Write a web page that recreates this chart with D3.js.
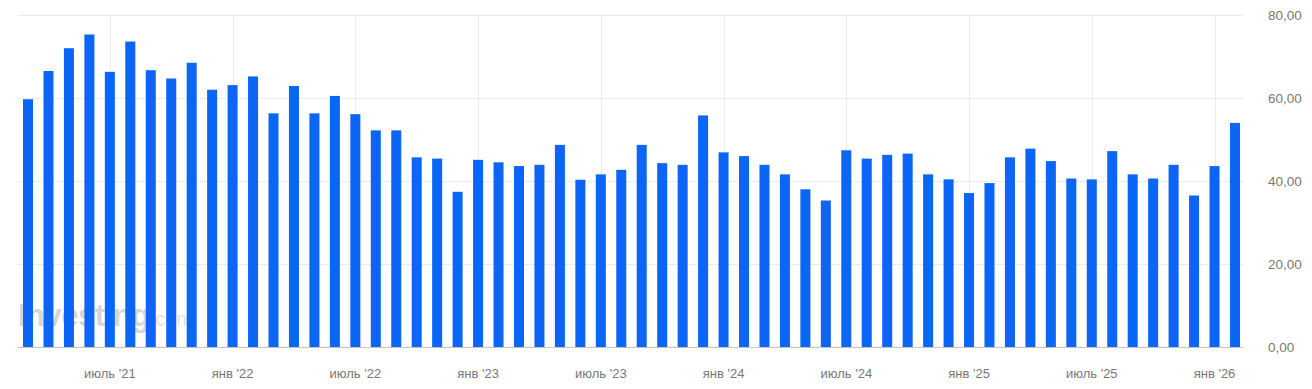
<!DOCTYPE html>
<html>
<head>
<meta charset="utf-8">
<script src="https://cdn.jsdelivr.net/npm/d3@7"></script>
<style>
  html, body { margin: 0; padding: 0; background: #fff; }
  svg { display: block; }
</style>
</head>
<body>
<svg id="chart" width="1312" height="389"></svg>
<script>
// Months: March 2021 .. February 2026
const months = [
  "2021-03","2021-04","2021-05","2021-06","2021-07","2021-08","2021-09","2021-10","2021-11","2021-12",
  "2022-01","2022-02","2022-03","2022-04","2022-05","2022-06","2022-07","2022-08","2022-09","2022-10","2022-11","2022-12",
  "2023-01","2023-02","2023-03","2023-04","2023-05","2023-06","2023-07","2023-08","2023-09","2023-10","2023-11","2023-12",
  "2024-01","2024-02","2024-03","2024-04","2024-05","2024-06","2024-07","2024-08","2024-09","2024-10","2024-11","2024-12",
  "2025-01","2025-02","2025-03","2025-04","2025-05","2025-06","2025-07","2025-08","2025-09","2025-10","2025-11","2025-12",
  "2026-01","2026-02"
];
const values = [
  59.7, 66.5, 72.0, 75.3, 66.3, 73.6, 66.7, 64.7, 68.5, 62.0,
  63.1, 65.2, 56.3, 62.9, 56.3, 60.5, 56.1, 52.2, 52.2, 45.7, 45.4, 37.4,
  45.1, 44.5, 43.6, 43.9, 48.7, 40.3, 41.6, 42.7, 48.7, 44.3, 43.9, 55.8,
  46.9, 46.0, 43.9, 41.6, 38.0, 35.3, 47.4, 45.4, 46.3, 46.6, 41.6, 40.4,
  37.1, 39.5, 45.7, 47.8, 44.8, 40.6, 40.4, 47.2, 41.6, 40.6, 43.9, 36.5,
  43.6, 54.0
];
// x-axis labels
const xTickMonths = ["2021-07","2022-01","2022-07","2023-01","2023-07","2024-01","2024-07","2025-01","2025-07","2026-01"];
const xTickLabels = ["июль '21","янв '22","июль '22","янв '23","июль '23","янв '24","июль '24","янв '25","июль '25","янв '26"];
const yTicks = [0, 20, 40, 60, 80];
const yTickLabels = ["0,00","20,00","40,00","60,00","80,00"];

const svg = d3.select("#chart");
const plotLeft = 17.8, plotRight = 1245.2, plotTop = 15, plotBottom = 347;

const x = d3.scaleBand().domain(months).range([plotLeft, plotRight]).paddingInner(0.51).paddingOuter(0.255);
const y = d3.scaleLinear().domain([0, 80]).range([plotBottom, plotTop]);

// watermark (behind bars)
const wm = svg.append("text").attr("x", 18).attr("y", 326)
  .attr("font-family", "Liberation Sans, Arial, sans-serif");
wm.append("tspan").text("Investing").attr("font-size", 31).attr("font-weight", "bold")
  .attr("fill", "#d6d6d6").attr("letter-spacing", "-0.5");
wm.append("tspan").text(".com").attr("font-size", 20).attr("fill", "#e4e4e4");

// horizontal gridlines
svg.append("g").selectAll("line").data(yTicks.filter(d => d > 0)).join("line")
  .attr("x1", plotLeft).attr("x2", 1243)
  .attr("y1", d => Math.round(y(d)) + 0.5).attr("y2", d => Math.round(y(d)) + 0.5)
  .attr("stroke", "#ebebeb").attr("stroke-width", 1);

// vertical gridlines
svg.append("g").selectAll("line").data(xTickMonths).join("line")
  .attr("x1", d => Math.round(x(d) + x.bandwidth() / 2) + 0.5)
  .attr("x2", d => Math.round(x(d) + x.bandwidth() / 2) + 0.5)
  .attr("y1", plotTop).attr("y2", plotBottom)
  .attr("stroke", "#ebebeb").attr("stroke-width", 1);

// bars
svg.append("g").selectAll("rect").data(values).join("rect")
  .attr("x", (d, i) => x(months[i]))
  .attr("width", x.bandwidth())
  .attr("y", d => y(d))
  .attr("height", d => y(0) - y(d))
  .attr("fill", "#0b66f6");

// baseline
svg.append("line").attr("x1", plotLeft).attr("x2", 1243)
  .attr("y1", Math.round(y(0)) + 0.5).attr("y2", Math.round(y(0)) + 0.5)
  .attr("stroke", "#c4c4c4").attr("stroke-width", 1);

// y labels
svg.append("g").selectAll("text").data(yTicks).join("text")
  .attr("x", 1268).attr("y", d => y(d)).attr("dy", "0.35em")
  .attr("font-family", "Liberation Sans, Arial, sans-serif").attr("font-size", 13.5)
  .attr("fill", "#777").text((d, i) => yTickLabels[i]);

// x labels
svg.append("g").selectAll("text").data(xTickMonths).join("text")
  .attr("x", d => x(d) + x.bandwidth() / 2).attr("y", 378)
  .attr("text-anchor", "middle")
  .attr("font-family", "Liberation Sans, Arial, sans-serif").attr("font-size", 13)
  .attr("fill", "#777").text((d, i) => xTickLabels[i]);
</script>
</body>
</html>
